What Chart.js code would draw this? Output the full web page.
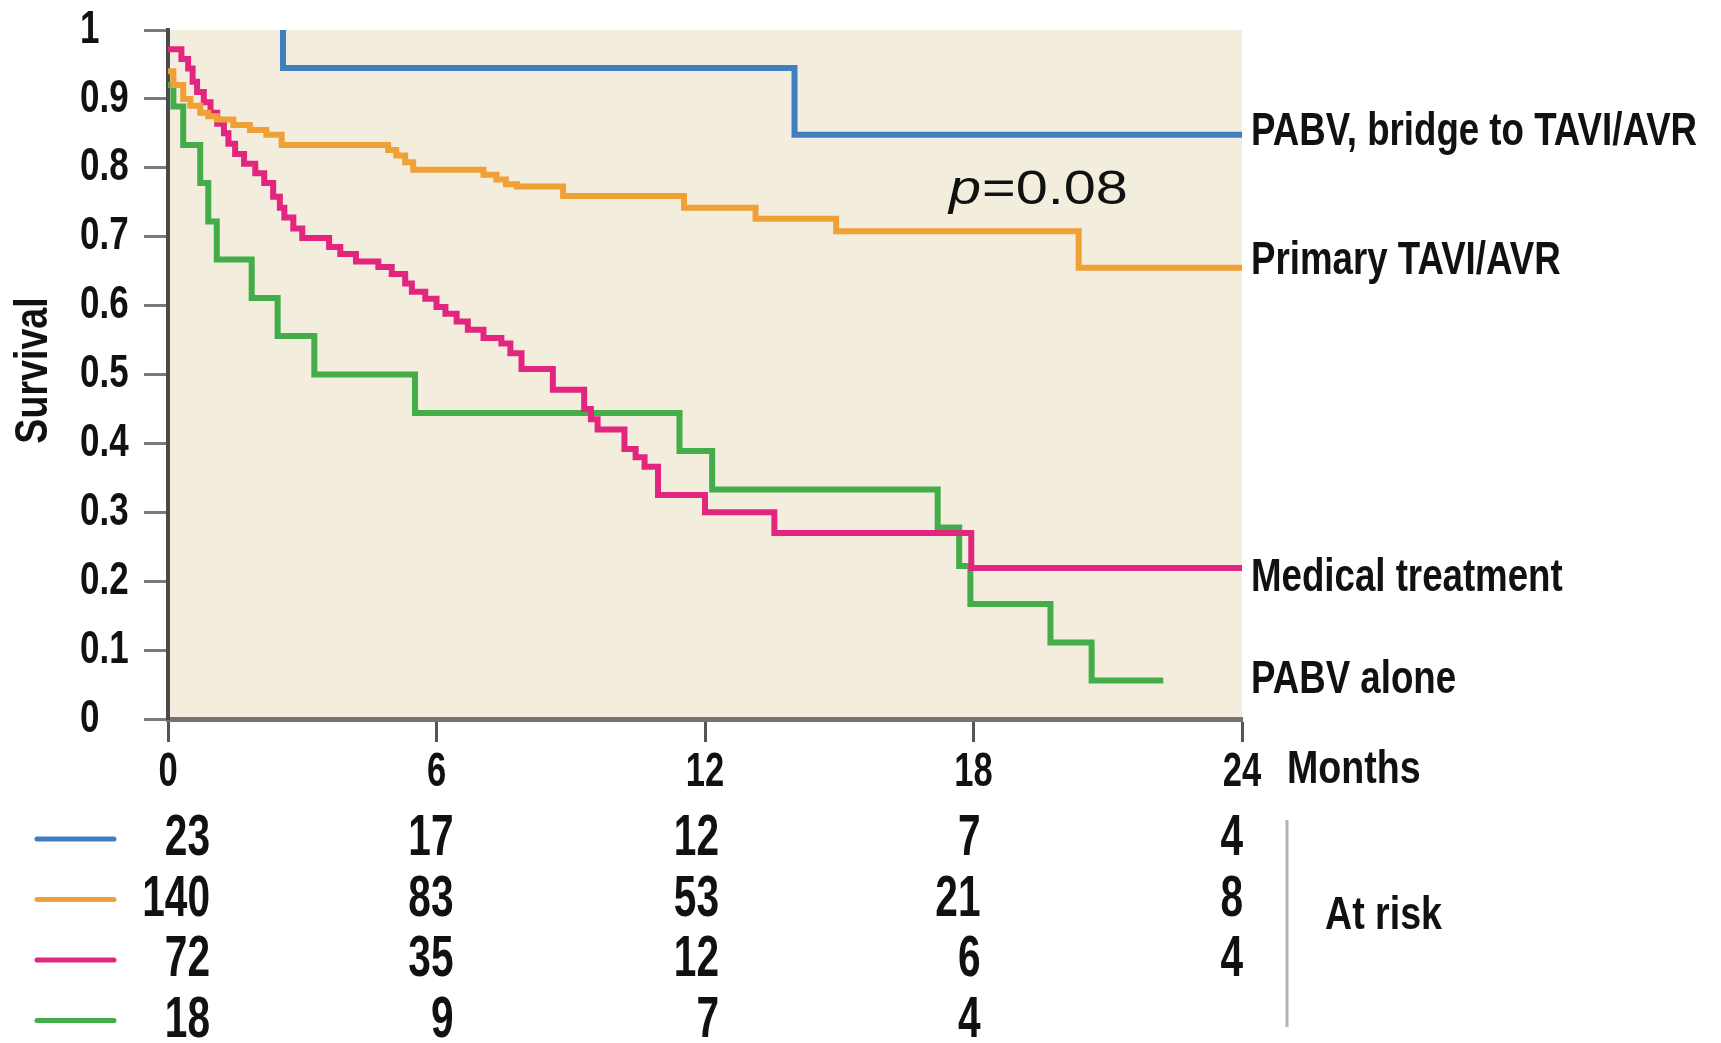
<!DOCTYPE html>
<html>
<head>
<meta charset="utf-8">
<script src="https://cdn.jsdelivr.net/npm/chart.js@4.4.1/dist/chart.umd.min.js"></script>
<style>
  html, body { margin: 0; padding: 0; background: #fff; }
  #wrap { width: 1721px; height: 1043px; position: relative; }
</style>
</head>
<body>
<div id="wrap"><canvas id="kmChart"></canvas></div>
<script>
// Kaplan-Meier curves: months vs. survival fraction
const groupNames = ["PABV, bridge to TAVI/AVR", "Primary TAVI/AVR", "Medical treatment", "PABV alone"];
const groupColors = ["#3f7fc0", "#f0a035", "#e2267f", "#43ad4a"];

const bridgeMonths = [2.57, 2.57, 14.0, 24];
const bridgeSurv   = [1.0, 0.945, 0.848, 0.848];

const primaryMonths = [0, 0.12, 0.34, 0.5, 0.72, 0.9, 1.09, 1.46, 1.83, 2.2, 2.54, 4.92, 5.1, 5.3, 5.48,
                       7.05, 7.34, 7.55, 7.8, 8.83, 11.53, 13.13, 14.93, 20.35, 24];
const primarySurv   = [0.94, 0.92, 0.90, 0.89, 0.88, 0.875, 0.87, 0.862, 0.855, 0.848, 0.833, 0.826, 0.818, 0.808, 0.797,
                       0.79, 0.783, 0.776, 0.773, 0.759, 0.742, 0.726, 0.708, 0.655, 0.655];

const medicalMonths = [0, 0.3, 0.45, 0.55, 0.65, 0.8, 0.95, 1.1, 1.25, 1.35, 1.5, 1.7, 1.95, 2.15, 2.35, 2.5, 2.6, 2.8, 3.0,
                       3.6, 3.85, 4.2, 4.7, 5.0, 5.3, 5.45, 5.75, 6.0, 6.2, 6.45, 6.7, 7.05, 7.45, 7.65, 7.9, 8.6,
                       9.3, 9.45, 9.6, 10.2, 10.45, 10.65, 10.95, 12.0, 13.55, 17.95, 24];
const medicalSurv   = [0.972, 0.958, 0.944, 0.925, 0.91, 0.895, 0.88, 0.864, 0.85, 0.835, 0.82, 0.806, 0.792, 0.778, 0.758, 0.742, 0.728, 0.712, 0.698,
                       0.685, 0.675, 0.664, 0.656, 0.646, 0.632, 0.62, 0.61, 0.598, 0.588, 0.577, 0.565, 0.553, 0.545, 0.531, 0.508, 0.478,
                       0.45, 0.435, 0.42, 0.392, 0.38, 0.366, 0.325, 0.30, 0.27, 0.219, 0.219];

const pabvMonths = [0, 0.12, 0.34, 0.72, 0.9, 1.09, 1.87, 2.45, 3.27, 5.52, 11.43, 12.16, 17.2, 17.68, 17.93, 19.72, 20.64, 22.24];
const pabvSurv   = [0.92, 0.889, 0.833, 0.778, 0.722, 0.667, 0.611, 0.556, 0.5, 0.444, 0.389, 0.333, 0.278, 0.222, 0.167, 0.111, 0.056, 0.056];

const monthTicks = [0, 6, 12, 18, 24];
const survivalTicks = [0, 0.1, 0.2, 0.3, 0.4, 0.5, 0.6, 0.7, 0.8, 0.9, 1];
const survivalTickLabels = ["0", "0.1", "0.2", "0.3", "0.4", "0.5", "0.6", "0.7", "0.8", "0.9", "1"];

const riskBridge  = [23, 17, 12, 7, 4];
const riskPrimary = [140, 83, 53, 21, 8];
const riskMedical = [72, 35, 12, 6, 4];
const riskPabv    = [18, 9, 7, 4, null];

const pValueText = "=0.08";

const sansFamily = "'Liberation Sans', Arial, sans-serif";

function toPoints(months, surv) {
    return months.map((m, i) => ({ x: m, y: surv[i] }));
}

const series = [
    toPoints(bridgeMonths, bridgeSurv),
    toPoints(primaryMonths, primarySurv),
    toPoints(medicalMonths, medicalSurv),
    toPoints(pabvMonths, pabvSurv)
];
const riskRows = [riskBridge, riskPrimary, riskMedical, riskPabv];

var datasets = series.map((pts, i) => ({
    label: groupNames[i],
    data: pts,
    borderColor: groupColors[i],
    borderWidth: 6,
    stepped: true,
    pointRadius: 0,
    fill: false
}));

// condensed bold text: Liberation Sans Bold squeezed horizontally
function narrowText(ctx, text, x, y, size, align, sx) {
    ctx.save();
    ctx.translate(x, y);
    ctx.scale(sx, 1);
    ctx.font = "bold " + size + "px " + sansFamily;
    ctx.textAlign = align;
    ctx.textBaseline = "middle";
    ctx.fillText(text, 0, 0);
    ctx.restore();
}

// beige plot panel behind the curves
const panelBg = {
    id: "panelBg",
    beforeDraw(chart) {
        const a = chart.chartArea, ctx = chart.ctx;
        ctx.save();
        ctx.fillStyle = "#f2eddc";
        ctx.fillRect(a.left, a.top, a.right - a.left, a.bottom - a.top);
        ctx.restore();
    }
};

// tick labels, axis title, p value, curve labels and the numbers-at-risk table
const kmText = {
    id: "kmText",
    afterDraw(chart) {
        const ctx = chart.ctx, a = chart.chartArea;
        const xs = chart.scales.x, ys = chart.scales.y;
        ctx.save();
        ctx.fillStyle = "#111";

        // y tick labels, left aligned
        survivalTicks.forEach((v, i) => {
            narrowText(ctx, survivalTickLabels[i], 80, ys.getPixelForValue(v), 46, "left", 0.76);
        });

        // x tick labels
        monthTicks.forEach(m => {
            narrowText(ctx, String(m), xs.getPixelForValue(m), a.bottom + 54, 48, "center", 0.72);
        });

        // y title
        ctx.save();
        ctx.translate(34, (a.top + a.bottom) / 2 - 4);
        ctx.rotate(-Math.PI / 2);
        narrowText(ctx, "Survival", 0, 0, 47, "center", 0.8);
        ctx.restore();

        // p value
        ctx.save();
        ctx.translate(xs.getPixelForValue(17.45), ys.getPixelForValue(0.747));
        ctx.scale(1.2, 1);
        ctx.textBaseline = "alphabetic";
        ctx.textAlign = "left";
        ctx.font = "italic 48px " + sansFamily;
        ctx.fillText("p", 0, 0);
        const pw = ctx.measureText("p").width;
        ctx.font = "48px " + sansFamily;
        ctx.fillText(pValueText, pw + 1, 0);
        ctx.restore();

        // labels at the end of each curve
        const labelDy = [-3, -7, 10, 0];
        series.forEach((pts, i) => {
            const last = pts[pts.length - 1];
            narrowText(ctx, groupNames[i], a.right + 9, ys.getPixelForValue(last.y) + labelDy[i], 47, "left", 0.78);
        });

        // x axis unit
        narrowText(ctx, "Months", a.right + 45, a.bottom + 51, 47, "left", 0.8);

        // numbers at risk
        const alignDx = [42, 17, 14, 7, 1];
        riskRows.forEach((row, r) => {
            const y = a.bottom + 120 + r * 60.5;
            ctx.save();
            ctx.strokeStyle = groupColors[r];
            ctx.lineWidth = 5;
            ctx.lineCap = "round";
            ctx.beginPath();
            ctx.moveTo(37, y);
            ctx.lineTo(114, y);
            ctx.stroke();
            ctx.restore();
            row.forEach((n, c) => {
                if (n === null) return;
                narrowText(ctx, String(n), xs.getPixelForValue(monthTicks[c]) + alignDx[c], y, 58, "right", 0.7);
            });
        });

        // bracket and "At risk"
        ctx.strokeStyle = "#b3b3b3";
        ctx.lineWidth = 3;
        ctx.beginPath();
        ctx.moveTo(a.right + 45, a.bottom + 101);
        ctx.lineTo(a.right + 45, a.bottom + 308);
        ctx.stroke();
        narrowText(ctx, "At risk", a.right + 83, a.bottom + 197, 47, "left", 0.8);

        ctx.restore();
    }
};

var ctx = document.getElementById("kmChart");
var kmChart = new Chart(ctx, {
    type: "line",
    data: { datasets: datasets },
    plugins: [panelBg, kmText],
    options: {
        responsive: true,
        maintainAspectRatio: false,
        animation: false,
        layout: { padding: { left: 79, top: 30, right: 479, bottom: 0 } },
        plugins: {
            legend: { display: false },
            tooltip: { enabled: false }
        },
        scales: {
            x: {
                type: "linear",
                min: 0,
                max: 24,
                afterBuildTicks: scale => { scale.ticks = monthTicks.map(v => ({ value: v })); },
                afterFit: scale => { scale.height = 324; },
                grid: { drawOnChartArea: false, tickLength: 23, tickColor: "#555", tickWidth: 3 },
                border: { color: "#737373", width: 5 },
                ticks: { display: false }
            },
            y: {
                min: 0,
                max: 1,
                afterBuildTicks: scale => { scale.ticks = survivalTicks.map(v => ({ value: v })); },
                afterFit: scale => { scale.width = 89; },
                grid: { drawOnChartArea: false, tickLength: 24, tickColor: "#7a7a7a", tickWidth: 3 },
                border: { color: "#4a4a4a", width: 4 },
                ticks: { display: false }
            }
        }
    }
});
</script>
</body>
</html>
